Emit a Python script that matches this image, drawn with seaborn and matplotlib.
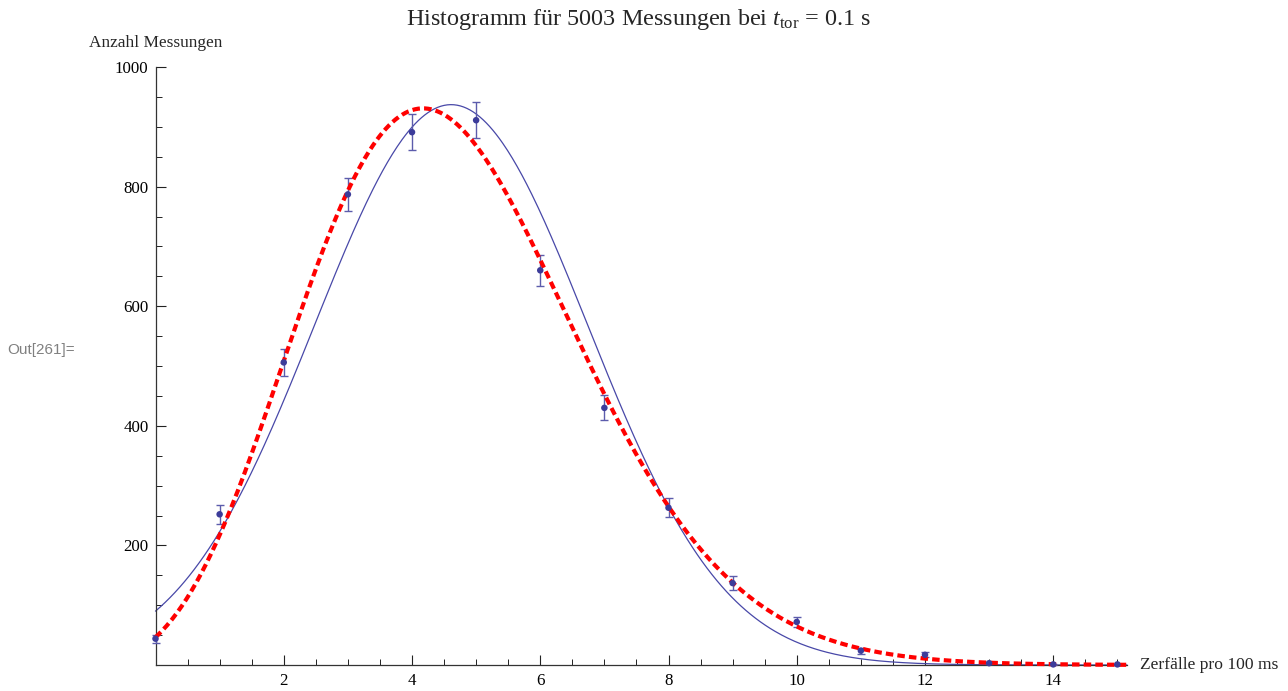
import math
import numpy as np
import pandas as pd
import matplotlib
matplotlib.use("Agg")
import matplotlib.pyplot as plt
import seaborn as sns

# measured counts per bin (Zerfälle pro 100 ms)
counts_x = [0, 1, 2, 3, 4, 5, 6, 7, 8, 9, 10, 11, 12, 13, 14, 15]
counts_n = [44, 252, 506, 787, 891, 911, 660, 430, 263, 137, 72, 24, 17, 3, 1, 1]

# fit parameters
n_total = 5003
gauss_mu = 4.61
gauss_sigma = 2.13
poisson_lambda = 4.68
x_max = 15.15

sns.set_style("ticks")
plt.rcParams["font.family"] = ["Liberation Serif", "DejaVu Serif"]
plt.rcParams["mathtext.fontset"] = "custom"
plt.rcParams["mathtext.rm"] = "Liberation Serif"
plt.rcParams["mathtext.it"] = "Liberation Serif:italic"

df = pd.DataFrame({"x": counts_x, "n": counts_n})
df["err"] = np.sqrt(df["n"])

# fitted models (gaussian solid blue, poisson dashed red)
xs = np.linspace(0, x_max, 600)
gauss = n_total / (gauss_sigma * math.sqrt(2 * math.pi)) * np.exp(-(xs - gauss_mu) ** 2 / (2 * gauss_sigma ** 2))
lg = np.array([math.lgamma(v + 1) for v in xs])
poisson = n_total * np.exp(xs * math.log(poisson_lambda) - poisson_lambda - lg)
curves = pd.DataFrame({"x": xs, "gauss": gauss, "poisson": poisson})

fig = plt.figure(figsize=(12.88, 6.91), dpi=100)
ax = fig.add_axes([155.5 / 1288, 26 / 691, (1127 - 155.5) / 1288, 598 / 691])

sns.lineplot(data=curves, x="x", y="gauss", ax=ax, color="#4848a8", lw=0.9, clip_on=False)
sns.lineplot(data=curves, x="x", y="poisson", ax=ax, color="#ff0000", lw=3.0,
             linestyle=(0, (1.8, 1.0)), clip_on=False, zorder=4)
ax.errorbar(df["x"], df["n"], yerr=df["err"], fmt="none", ecolor="#5c5cac",
            elinewidth=1.0, capsize=3, capthick=1.0, clip_on=False, zorder=3)
sns.scatterplot(data=df, x="x", y="n", ax=ax, color="#3c3c9a", s=22,
                edgecolor="none", clip_on=False, zorder=5)

ax.set_xlim(0, x_max)
ax.set_ylim(0, 1000)
ax.set_xticks([2, 4, 6, 8, 10, 12, 14])
ax.set_xticks(np.arange(0.5, 15.1, 0.5), minor=True)
ax.set_yticks([200, 400, 600, 800, 1000])
ax.set_yticks(np.arange(50, 1000, 50), minor=True)
ax.tick_params(axis="both", which="major", direction="in", length=7.5, width=0.8,
               labelsize=12.2, colors="#222222", labelcolor="black")
ax.tick_params(axis="both", which="minor", direction="in", length=4.5, width=0.7, colors="#222222")
ax.tick_params(axis="y", pad=5)
ax.tick_params(axis="x", pad=6)
ax.set_xlabel("")
ax.set_ylabel("")
sns.despine(ax=ax)
for s in ("left", "bottom"):
    ax.spines[s].set_color("#333333")
    ax.spines[s].set_linewidth(0.9)

fig.text(155.5 / 1288, 1 - 43 / 691, "Anzahl Messungen", ha="center", va="center", fontsize=12.4)
fig.text(1140 / 1288, 1 - 665 / 691, "Zerfälle pro 100 ms", ha="left", va="center", fontsize=12.6)
fig.text(638.5 / 1288, 1 - 19 / 691, r"Histogramm für 5003 Messungen bei $t_\mathrm{tor}$ = 0.1 s",
         ha="center", va="center", fontsize=17.4)
fig.text(7 / 1288, 1 - 350 / 691, "Out[261]=", ha="left", va="center", fontsize=11,
         color="#808080", family=["Liberation Sans", "DejaVu Sans"])

fig.savefig("out.png", dpi=100)
